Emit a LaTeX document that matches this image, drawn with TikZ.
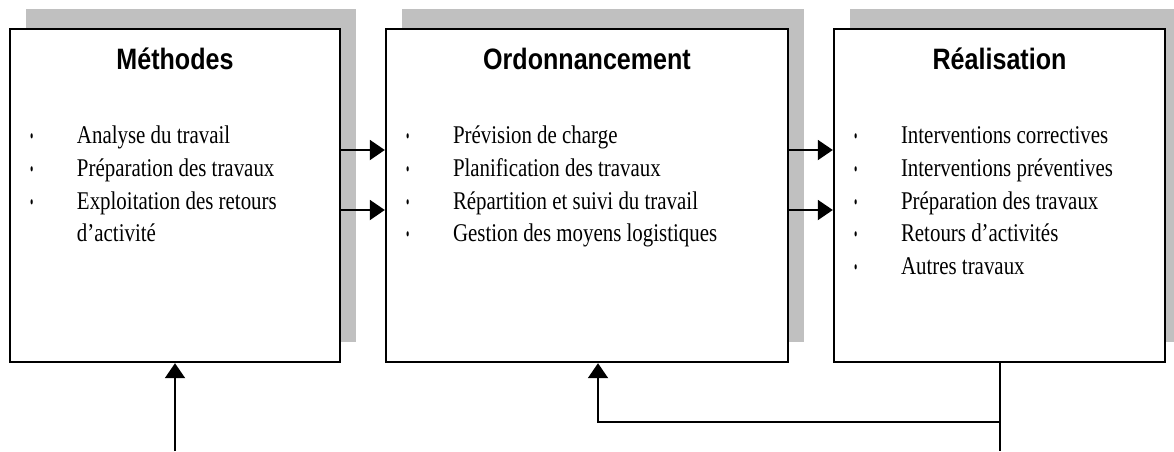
\documentclass[tikz,border=0pt]{standalone}
\usepackage{fontspec}
\newfontfamily\titrefont[FakeStretch=0.85]{Liberation Sans}
\newfontfamily\listefont[FakeStretch=0.82]{Liberation Serif}
\usepackage{tikz}
\usetikzlibrary{arrows.meta,shadows,calc}
\definecolor{ombre}{RGB}{192,192,192}
\newcommand{\puce}{\scalebox{0.45}[0.85]{\textbullet}}

\tikzset{
  bloc/.style={draw, line width=2.4pt, fill=white, minimum width=#1,
    minimum height=333pt, inner sep=0pt,
    drop shadow={shadow xshift=15.5pt, shadow yshift=20.5pt, fill=ombre, opacity=1}},
  titre/.style={font=\titrefont\bfseries\fontsize{29.5}{34}\selectfont, inner sep=0pt, anchor=base},
  liste/.style={font=\listefont\fontsize{25.5}{32.7}\selectfont, inner sep=0pt, anchor=base west},
  fleche/.style={line width=2pt, -{Triangle[length=15pt,width=20pt]}},
  trait/.style={line width=2pt}
}

\begin{document}
\begin{tikzpicture}[x=1pt,y=-1pt]
\useasboundingbox (0,0) rectangle (1174,451);

%%Blocs
\node[bloc=330pt] (meth) at (175,195.5) {};
\node[bloc=402pt] (ordo) at (587,195.5) {};
\node[bloc=331pt] (real) at (999.5,195.5) {};

\node[titre] (tmeth) at ($(meth.north)+(0,42)$) {Méthodes};
\node[titre] (tordo) at ($(ordo.north)+(0,42)$) {Ordonnancement};
\node[titre] (treal) at ($(real.north)+(0,42)$) {Réalisation};

%%Listes
\node[liste] (lmeth) at ($(meth.north west)+(21,116)$) {\begin{tabular}[t]{@{}p{47pt}@{}l@{}}
\puce & Analyse du travail\\
\puce & Préparation des travaux\\
\puce & Exploitation des retours\\
      & d’activité
\end{tabular}};
\node[liste] (lordo) at ($(ordo.north west)+(21,116)$) {\begin{tabular}[t]{@{}p{47pt}@{}l@{}}
\puce & Prévision de charge\\
\puce & Planification des travaux\\
\puce & Répartition et suivi du travail\\
\puce & Gestion des moyens logistiques
\end{tabular}};
\node[liste] (lreal) at ($(real.north west)+(21,116)$) {\begin{tabular}[t]{@{}p{47pt}@{}l@{}}
\puce & Interventions correctives\\
\puce & Interventions préventives\\
\puce & Préparation des travaux\\
\puce & Retours d’activités\\
\puce & Autres travaux
\end{tabular}};

%%Liaisons
\draw[fleche] ($(meth.east)+(0,-45.5)$) -- ($(ordo.west)+(0,-45.5)$);
\draw[fleche] ($(meth.east)+(0,14.5)$) -- ($(ordo.west)+(0,14.5)$);
\draw[fleche] ($(ordo.east)+(0,-45.5)$) -- ($(real.west)+(0,-45.5)$);
\draw[fleche] ($(ordo.east)+(0,14.5)$) -- ($(real.west)+(0,14.5)$);

\coordinate (entree) at (175,451);
\coordinate (sortie) at (999.5,451);
\coordinate (retour) at (999.5,422);
\draw[fleche] (entree) -- (meth.south);
\draw[trait] (real.south) -- (sortie);
\draw[fleche] (retour) -| ($(ordo.south)+(11,0)$);

\end{tikzpicture}
\end{document}
